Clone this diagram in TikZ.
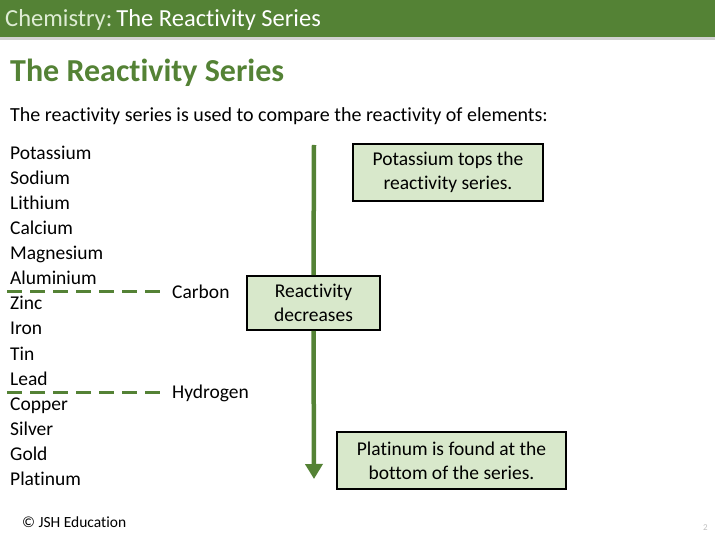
\documentclass[tikz,border=0pt]{standalone}
\usepackage{fontspec}
\setmainfont{Carlito}[Ligatures={NoCommon}]
\usepackage{xcolor}
\usepackage{tikz}
\usetikzlibrary{arrows.meta, positioning, calc}

\definecolor{chemgreen}{RGB}{84,130,53}
\definecolor{boxgreen}{RGB}{216,232,203}
\definecolor{headtint}{RGB}{222,236,212}

\begin{document}
\begin{tikzpicture}[
    x=1pt, y=-1pt,
    >=Triangle,
    element/.style={anchor=base west, inner sep=0pt,
                    font=\fontsize{19.5}{24}\selectfont},
    note/.style={rectangle, draw=black, line width=1.6pt, fill=boxgreen,
                 align=center, inner sep=0pt,
                 font=\fontsize{19.5}{24}\selectfont},
    divider/.style={chemgreen, line width=3pt, dash pattern=on 15pt off 8pt},
    trend/.style={chemgreen, line width=4.5pt}
]
\useasboundingbox (0,0) rectangle (715,537);

% header bar
\fill[black!18] (0,36) rectangle (715,40);
\fill[chemgreen] (0,0) rectangle (715,37);
\node[element, font=\fontsize{24.5}{29}\selectfont] (header) at (5,27)
    {\textcolor{headtint}{Chemistry:}\,\textcolor{white}{The Reactivity Series}};

\node[element, font=\fontsize{32}{38}\bfseries\selectfont, text=chemgreen]
    (title) at (10,82) {The Reactivity Series};
\node[element, font=\fontsize{20}{24}\selectfont] (intro) at (10,122)
    {The reactivity series is used to compare the reactivity of elements:};

% the series, most reactive first
\foreach \name [count=\i] in {Potassium,Sodium,Lithium,Calcium,Magnesium,
    Aluminium,Zinc,Iron,Tin,Lead,Copper,Silver,Gold,Platinum} {
    \node[element] (el\i) at (10,{160+25*(\i-1)}) {\name};
}

% where carbon and hydrogen sit
\node[element] (carbon) at (172,299) {Carbon};
\node[element] (hydrogen) at (172,398) {Hydrogen};
\coordinate (cstart) at (7,292);
\coordinate (hstart) at (7,392);
\draw[divider] (cstart) -- (cstart -| 165,0);
\draw[divider] (hstart) -- (hstart -| 165,0);

% trend arrow
\node[note, minimum width=133pt, minimum height=54pt] (decr) at (313.5,303)
    {Reactivity\\decreases};
\coordinate (top) at (314,145);
\coordinate (bottom) at (314,479);
\draw[trend] (top) -- (decr.north);
\draw[trend, -{Triangle[length=15pt, width=17pt]}] (decr.south) -- (bottom);

\node[note, minimum width=190pt, minimum height=57pt] (topnote) at (448,172.5)
    {Potassium tops the\\reactivity series.};
\node[note, minimum width=229pt, minimum height=57pt] (bottomnote) at (451.5,460.5)
    {Platinum is found at the\\bottom of the series.};

% footer
\node[element, font=\fontsize{15.5}{18}\selectfont] (copy) at (22,527) {© JSH Education};
\node[element, font=\fontsize{9}{11}\selectfont, text=black!25] (page) at (703,530) {2};
\end{tikzpicture}
\end{document}
